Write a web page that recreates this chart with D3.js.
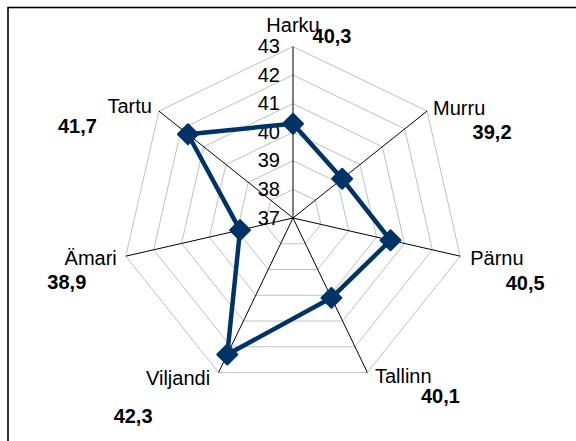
<!DOCTYPE html>
<html>
<head>
<meta charset="utf-8">
<script src="https://cdn.jsdelivr.net/npm/d3@7"></script>
<style>
  body { margin: 0; background: #fff; }
  text { font-family: "Liberation Sans", Arial, sans-serif; }
</style>
</head>
<body>
<div id="radar"></div>
<script>
var categories = ["Harku", "Murru", "Pärnu", "Tallinn", "Viljandi", "Ämari", "Tartu"];
var values = [40.3, 39.2, 40.5, 40.1, 42.3, 38.9, 41.7];
var ticks = [37, 38, 39, 40, 41, 42, 43];

document.addEventListener("DOMContentLoaded", function(){

  var width = 576,
  height = 441,
  cx = 293, cy = 218,
  radius = 171.5;

  // label offsets from the end of each axis [dx, dy, anchor]
  var catOffset = [[0, -14.5, "middle"], [6, 4, "start"], [10, 9, "start"], [7.5, 10.5, "start"],
                   [-8.5, 12.5, "end"], [-9, 9, "end"], [-7, 2, "end"]];
  var valOffset = [[39, -3.5], [65, 28], [65, 34], [73, 30.5], [-85.5, 50.5], [-59, 33], [-81.5, 22]];

  var comma = d3.formatLocale({decimal: ",", thousands: " ", grouping: [3], currency: ["", ""]}).format(".1f");

  var r = d3.scaleLinear()
	.domain([d3.min(ticks), d3.max(ticks)])
	.range([0, radius]);

  var angle = d3.scaleLinear()
	.domain([0, categories.length])
	.range([0, 2 * Math.PI]);

  function pt(i, v) {
    var a = angle(i);
    return [r(v) * Math.sin(a), -r(v) * Math.cos(a)];
  }

  var svg = d3.select("#radar")
	.append("svg")
	.attr("width", width)
	.attr("height", height);

  // frame (only top and left show inside the picture)
  svg.append("rect")
	.attr("x", 8).attr("y", 7.5)
	.attr("width", 640).attr("height", 520)
	.attr("fill", "none")
	.attr("stroke", "#000")
	.attr("stroke-width", 1.6);

  var g = svg.append("g")
	.attr("transform", "translate(" + cx + "," + cy + ")");

  // grid rings
  g.selectAll(".ring")
	.data(ticks.slice(1))
	.enter().append("polygon")
	.attr("class", "ring")
	.attr("points", function(t) { return categories.map(function(c, i){ return pt(i, t); }).join(" "); })
	.attr("fill", "none")
	.attr("stroke", "#c0c0c0")
	.attr("stroke-width", 1);

  // spokes
  g.selectAll(".spoke")
	.data(categories)
	.enter().append("line")
	.attr("class", "spoke")
	.attr("x1", 0).attr("y1", 0)
	.attr("x2", function(d, i) { return pt(i, d3.max(ticks))[0]; })
	.attr("y2", function(d, i) { return pt(i, d3.max(ticks))[1]; })
	.attr("stroke", "#000")
	.attr("stroke-width", 1);

  // tick labels along the top spoke
  g.selectAll(".tick")
	.data(ticks)
	.enter().append("text")
	.attr("class", "tick")
	.attr("x", -13)
	.attr("y", function(t) { return -r(t) + 6.5; })
	.attr("text-anchor", "end")
	.style("font-size", "20px")
	.style("fill", "#000")
	.text(function(t) { return t; });

  // series line
  var line = d3.lineRadial()
	.angle(function(d, i) { return angle(i); })
	.radius(function(d) { return r(d); })
	.curve(d3.curveLinearClosed);

  g.append("path")
	.attr("d", line(values))
	.attr("fill", "none")
	.attr("stroke", "#003366")
	.attr("stroke-width", 4.5)
	.attr("stroke-linejoin", "round");

  // diamond markers
  g.selectAll(".marker")
	.data(values)
	.enter().append("path")
	.attr("class", "marker")
	.attr("transform", function(d, i) { return "translate(" + pt(i, d) + ")"; })
	.attr("d", "M0,-10L10,0L0,10L-10,0Z")
	.attr("fill", "#003366")
	.attr("stroke", "#003366")
	.attr("stroke-width", 2)
	.attr("stroke-linejoin", "round");

  // category labels
  g.selectAll(".cat")
	.data(categories)
	.enter().append("text")
	.attr("class", "cat")
	.attr("x", function(d, i) { return pt(i, d3.max(ticks))[0] + catOffset[i][0]; })
	.attr("y", function(d, i) { return pt(i, d3.max(ticks))[1] + catOffset[i][1]; })
	.attr("text-anchor", function(d, i) { return catOffset[i][2]; })
	.style("font-size", "20px")
	.style("fill", "#000")
	.text(function(d) { return d; });

  // value labels
  g.selectAll(".val")
	.data(values)
	.enter().append("text")
	.attr("class", "val")
	.attr("x", function(d, i) { return pt(i, d3.max(ticks))[0] + valOffset[i][0]; })
	.attr("y", function(d, i) { return pt(i, d3.max(ticks))[1] + valOffset[i][1]; })
	.attr("text-anchor", "middle")
	.style("font-size", "20px")
	.style("font-weight", "bold")
	.style("fill", "#000")
	.text(function(d) { return comma(d); });

});
</script>
</body>
</html>
